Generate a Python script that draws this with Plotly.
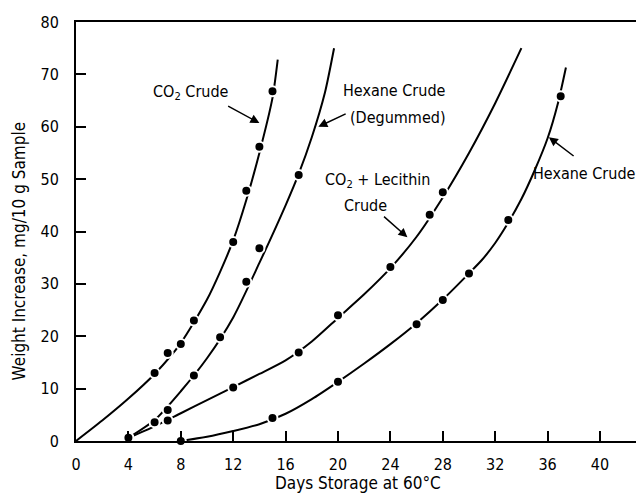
import plotly.graph_objects as go

# ---- data ----
co2_days = [6, 7, 8, 9, 12, 13, 14, 15]
co2_wt = [13, 16.8, 18.5, 23, 38, 47.8, 56.2, 66.8]
co2_fit_days = [0, 2, 4, 6, 8, 10, 11, 12, 13, 14, 15, 15.4]
co2_fit_wt = [0, 3.9, 8.1, 12.8, 18.7, 27, 32.3, 38.3, 46, 55, 65.5, 72.8]

deg_days = [4, 6, 7, 9, 11, 13, 14, 17]
deg_wt = [0.6, 3.6, 5.9, 12.5, 19.8, 30.4, 36.8, 50.8]
deg_fit_days = [4, 6, 8, 10, 12, 14, 16, 17, 18, 19, 19.7]
deg_fit_wt = [0.6, 4, 9.5, 15.8, 23.6, 34, 45, 51, 58, 66.5, 75]

lec_days = [4, 7, 12, 17, 20, 24, 27, 28]
lec_wt = [0.6, 3.9, 10.2, 16.9, 24, 33.2, 43.2, 47.5]
lec_fit_days = [4, 6, 8, 10, 12, 14, 16, 18, 20, 22, 24, 26, 28, 30, 32, 34]
lec_fit_wt = [0.6, 2.8, 5.3, 7.8, 10.3, 12.8, 15.4, 19, 23.5, 28, 33, 39, 46.5, 55, 64.5, 75]

hex_days = [8, 15, 20, 26, 28, 30, 33, 37]
hex_wt = [0, 4.4, 11.3, 22.3, 26.9, 32, 42.2, 65.8]
hex_fit_days = [8, 10, 12, 14, 16, 18, 20, 22, 24, 26, 28, 30, 31, 32, 33, 34, 35, 36, 36.8, 37.4]
hex_fit_wt = [0, 0.8, 1.9, 3.2, 5.2, 8, 11.3, 14.8, 18.5, 22.5, 27, 32, 34.6, 37.8, 41.7, 46.2, 51.6, 57.8, 64.6, 71.3]

x_ticks = [0, 4, 8, 12, 16, 20, 24, 28, 32, 36, 40]
x_ticklabels = ["0", "4", "8", "12", "16", "20", "24", "28", "32", "36", "40"]
y_ticks = [0, 10, 20, 30, 40, 50, 60, 70, 80]

FONT = "DejaVu Sans Condensed, Liberation Sans Narrow, sans-serif"

fig = go.Figure()

for fx, fy in [(co2_fit_days, co2_fit_wt), (deg_fit_days, deg_fit_wt),
               (lec_fit_days, lec_fit_wt), (hex_fit_days, hex_fit_wt)]:
    fig.add_trace(go.Scatter(x=fx, y=fy, mode="lines",
                             line=dict(color="black", width=2, shape="spline", smoothing=0.7),
                             showlegend=False, hoverinfo="skip", cliponaxis=False))

for px, py in [(co2_days, co2_wt), (deg_days, deg_wt), (lec_days, lec_wt), (hex_days, hex_wt)]:
    fig.add_trace(go.Scatter(x=px, y=py, mode="markers",
                             marker=dict(color="black", size=10, line=dict(color="white", width=2)),
                             showlegend=False, cliponaxis=False))

labels = [
    ("CO<sub>2</sub> Crude", 8.8, 66.6, "center"),
    ("Hexane Crude", 24.3, 67, "center"),
    ("(Degummed)", 24.6, 61.8, "center"),
    ("CO<sub>2</sub> + Lecithin", 23.0, 49.8, "center"),
    ("Crude", 22.1, 45, "center"),
    ("Hexane Crude", 42.9, 51.1, "right"),
]
for t, x, y, anc in labels:
    fig.add_annotation(x=x, y=y, text=t, showarrow=False, xanchor=anc,
                       font=dict(family=FONT, size=16, color="black"))

arrows = [
    (14.0, 60.7, 11.5, 64.1),
    (18.5, 60.0, 20.7, 62.6),
    (25.3, 38.9, 23.4, 43.1),
    (36.1, 58.0, 38.1, 54.2),
]
for x, y, ax, ay in arrows:
    fig.add_annotation(x=x, y=y, ax=ax, ay=ay, xref="x", yref="y", axref="x", ayref="y",
                       text="", showarrow=True, arrowhead=2, arrowsize=1.2,
                       arrowwidth=1.5, arrowcolor="black")

# axis titles
fig.add_annotation(text="Days Storage at 60°C", xref="paper", yref="paper",
                   x=0.496, y=-0.1, xanchor="center", yanchor="middle", showarrow=False,
                   font=dict(family=FONT, size=17, color="black"))
fig.add_annotation(text="Weight Increase, mg/10 g Sample", xref="paper", yref="paper",
                   x=-0.1, y=0.453, xanchor="center", yanchor="middle", showarrow=False,
                   textangle=-90, font=dict(family=FONT, size=17, color="black"))

# page body has an 8px default margin, so the figure is sized to fit the window
fig.update_layout(
    width=636, height=486,
    margin=dict(l=68, r=0, t=14, b=53),
    paper_bgcolor="white", plot_bgcolor="white",
    font=dict(family=FONT, size=16, color="black"),
    xaxis=dict(range=[0, 43.36], tickvals=x_ticks, ticktext=x_ticklabels,
               ticks="inside", ticklen=10, tickwidth=1.5, tickcolor="black",
               showline=True, linecolor="black", linewidth=2, mirror=True,
               showgrid=False, zeroline=False, ticklabelstandoff=8,
               tickfont=dict(size=16)),
    yaxis=dict(range=[0, 80], tickvals=y_ticks,
               ticks="inside", ticklen=10, tickwidth=1.5, tickcolor="black",
               showline=True, linecolor="black", linewidth=2,
               showgrid=False, zeroline=False, ticklabelstandoff=12,
               tickfont=dict(size=16)),
)

fig.write_html("out.html")
